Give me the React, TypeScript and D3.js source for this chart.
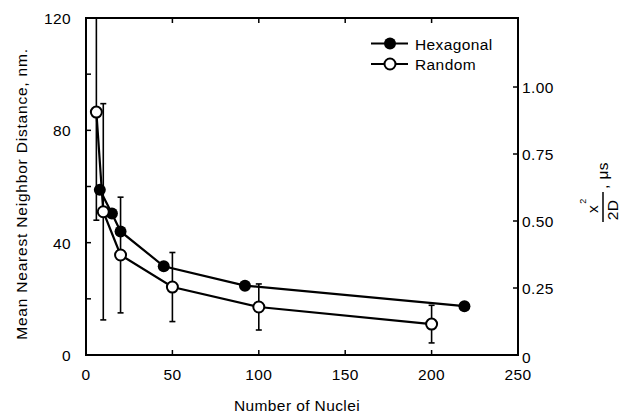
import React from "react";
import * as d3 from "d3";

const hexX = [8, 15, 20, 45, 92, 219];
const hexY = [58.8, 50.4, 44, 31.6, 24.7, 17.4];
const randX = [6, 10, 20, 50, 100, 200];
const randY = [86.5, 51, 35.6, 24.2, 17.1, 11];
const randErr = [38.5, 38.5, 20.6, 12.3, 8.2, 6.7];
const xTicks = [0, 50, 100, 150, 200, 250];
const yMajor = [0, 40, 80, 120];
const yMinor = [20, 60, 100];
const rTicks = [0, 0.25, 0.5, 0.75, 1.0];
const rLabels = ["0", "0.25", "0.50", "0.75", "1.00"];

const W = 625, H = 414;
const M = { left: 86, right: 518, top: 18, bottom: 355 };
const FONT = "'Liberation Sans', Arial, Helvetica, sans-serif";
const FS = 15.5;
const LS = 0.4;

export default function App() {
  const x = d3.scaleLinear().domain([0, 250]).range([M.left, M.right]);
  const y = d3.scaleLinear().domain([0, 120]).range([M.bottom, M.top]);
  const yr = d3.scaleLinear().domain([0, 1.2575]).range([M.bottom, M.top]);
  const line = d3.line<[number, number]>().x(d => x(d[0])).y(d => y(d[1]));
  const hexPts: [number, number][] = hexX.map((v, i) => [v, hexY[i]]);
  const randPts: [number, number][] = randX.map((v, i) => [v, randY[i]]);
  const tl = 5;
  return (
    <svg width={W} height={H} style={{ position: "absolute", left: 0, top: 0, background: "#fff" }} fontFamily={FONT} letterSpacing={LS}>
      <rect x={0} y={0} width={W} height={H} fill="#fff" />
      {/* frame */}
      <rect x={M.left} y={M.top} width={M.right - M.left} height={M.bottom - M.top} fill="none" stroke="#000" strokeWidth={2} />
      {/* x ticks */}
      {xTicks.map(t => (
        <g key={"xt" + t}>
          <line x1={x(t)} x2={x(t)} y1={M.bottom} y2={M.bottom - tl} stroke="#000" strokeWidth={1.5} />
          <line x1={x(t)} x2={x(t)} y1={M.top} y2={M.top + tl} stroke="#000" strokeWidth={1.5} />
          <text x={x(t)} y={y(0) + 25} textAnchor="middle" fontSize={FS}>{t}</text>
        </g>
      ))}
      {/* y ticks */}
      {yMajor.concat(yMinor).map(t => (
        <line key={"yt" + t} x1={M.left} x2={M.left + tl} y1={y(t)} y2={y(t)} stroke="#000" strokeWidth={1.5} />
      ))}
      {yMajor.map(t => (
        <text key={"yl" + t} x={M.left - 15} y={y(t) + 6} textAnchor="end" fontSize={FS}>{t}</text>
      ))}
      {/* right ticks */}
      {rTicks.map((t, i) => (
        <g key={"rt" + t}>
          <line x1={M.right} x2={M.right - tl} y1={yr(t)} y2={yr(t)} stroke="#000" strokeWidth={1.5} />
          <text x={M.right + 4} y={yr(t) + (i === 0 ? 8 : 6)} textAnchor="start" fontSize={FS}>{rLabels[i]}</text>
        </g>
      ))}
      {/* axis titles */}
      <text x={297} y={411} textAnchor="middle" fontSize={FS}>Number of Nuclei</text>
      <text transform={`translate(27,194) rotate(-90)`} textAnchor="middle" fontSize={FS} letterSpacing={0.8}>Mean Nearest Neighbor Distance, nm.</text>
      <g transform="translate(603,207) rotate(-90)" fontSize={FS}>
        <line x1={-15} x2={15} y1={0} y2={0} stroke="#000" strokeWidth={1.5} />
        <text x={-2} y={-5} textAnchor="middle">x</text>
        <text x={6} y={-17} textAnchor="middle" fontSize={9}>2</text>
        <text x={-3} y={15} textAnchor="middle">2D</text>
        <text x={18} y={5} textAnchor="start">, μs</text>
      </g>
      {/* error bars */}
      {randX.map((v, i) => {
        const lo = randY[i] - randErr[i];
        const hiRaw = randY[i] + randErr[i];
        const hi = Math.min(hiRaw, 120);
        return (
          <g key={"eb" + i} stroke="#000" strokeWidth={1.6}>
            <line x1={x(v)} x2={x(v)} y1={y(lo)} y2={y(hi)} />
            <line x1={x(v) - 3} x2={x(v) + 3} y1={y(lo)} y2={y(lo)} />
            {hiRaw <= 120 && <line x1={x(v) - 3} x2={x(v) + 3} y1={y(hi)} y2={y(hi)} />}
          </g>
        );
      })}
      {/* lines */}
      <path d={line(hexPts) || ""} fill="none" stroke="#000" strokeWidth={2.2} />
      <path d={line(randPts) || ""} fill="none" stroke="#000" strokeWidth={2.2} />
      {hexPts.map((p, i) => (
        <circle key={"hc" + i} cx={x(p[0])} cy={y(p[1])} r={6} fill="#000" />
      ))}
      {randPts.map((p, i) => (
        <circle key={"rc" + i} cx={x(p[0])} cy={y(p[1])} r={5.5} fill="#fff" stroke="#000" strokeWidth={2} />
      ))}
      {/* legend */}
      <line x1={371} x2={408} y1={43.5} y2={43.5} stroke="#000" strokeWidth={2} />
      <circle cx={390} cy={43.5} r={6} fill="#000" />
      <text x={415} y={49.5} fontSize={FS}>Hexagonal</text>
      <line x1={371} x2={408} y1={64} y2={64} stroke="#000" strokeWidth={2} />
      <circle cx={390} cy={64} r={5.5} fill="#fff" stroke="#000" strokeWidth={2} />
      <text x={415} y={70} fontSize={FS}>Random</text>
    </svg>
  );
}
